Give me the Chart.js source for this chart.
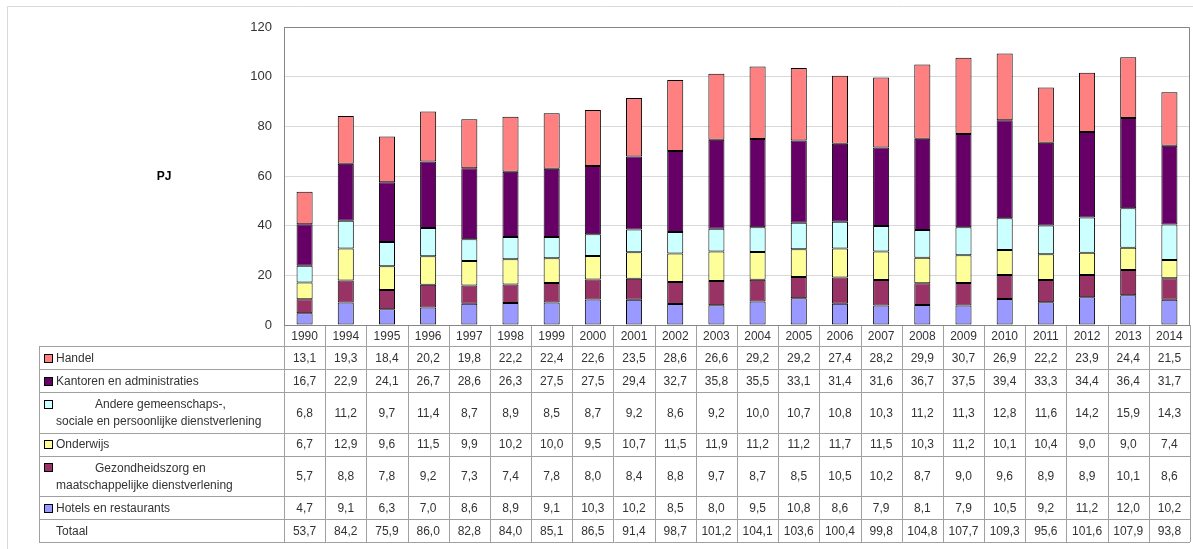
<!DOCTYPE html>
<html lang="nl">
<head>
  <meta charset="UTF-8" />
  <title>Energieverbruik dienstensector (PJ)</title>
  <script src="https://cdn.jsdelivr.net/npm/chart.js"></script>
  <style>
    html, body { margin: 0; padding: 0; background: #ffffff; }
    .wrap { position: relative; width: 1193px; height: 549px; }
  </style>
</head>
<body>
  <div class="wrap"><canvas id="chart"></canvas></div>

  <script>
    // jaren (kolommen)
    const years = ['1990', '1994', '1995', '1996', '1997', '1998', '1999', '2000', '2001', '2002', '2003',
      '2004', '2005', '2006', '2007', '2008', '2009', '2010', '2011', '2012', '2013', '2014'];

    // waarden per sector, PJ
    const handel = [13.1, 19.3, 18.4, 20.2, 19.8, 22.2, 22.4, 22.6, 23.5, 28.6, 26.6, 29.2, 29.2, 27.4, 28.2, 29.9, 30.7, 26.9, 22.2, 23.9, 24.4, 21.5];
    const kantoren = [16.7, 22.9, 24.1, 26.7, 28.6, 26.3, 27.5, 27.5, 29.4, 32.7, 35.8, 35.5, 33.1, 31.4, 31.6, 36.7, 37.5, 39.4, 33.3, 34.4, 36.4, 31.7];
    const andere = [6.8, 11.2, 9.7, 11.4, 8.7, 8.9, 8.5, 8.7, 9.2, 8.6, 9.2, 10.0, 10.7, 10.8, 10.3, 11.2, 11.3, 12.8, 11.6, 14.2, 15.9, 14.3];
    const onderwijs = [6.7, 12.9, 9.6, 11.5, 9.9, 10.2, 10.0, 9.5, 10.7, 11.5, 11.9, 11.2, 11.2, 11.7, 11.5, 10.3, 11.2, 10.1, 10.4, 9.0, 9.0, 7.4];
    const gezondheid = [5.7, 8.8, 7.8, 9.2, 7.3, 7.4, 7.8, 8.0, 8.4, 8.8, 9.7, 8.7, 8.5, 10.5, 10.2, 8.7, 9.0, 9.6, 8.9, 8.9, 10.1, 8.6];
    const hotels = [4.7, 9.1, 6.3, 7.0, 8.6, 8.9, 9.1, 10.3, 10.2, 8.5, 8.0, 9.5, 10.8, 8.6, 7.9, 8.1, 7.9, 10.5, 9.2, 11.2, 12.0, 10.2];
    const totaal = [53.7, 84.2, 75.9, 86.0, 82.8, 84.0, 85.1, 86.5, 91.4, 98.7, 101.2, 104.1, 103.6, 100.4, 99.8, 104.8, 107.7, 109.3, 95.6, 101.6, 107.9, 93.8];

    const yTicks = [0, 20, 40, 60, 80, 100, 120];

    const fmt = v => v.toFixed(1).replace('.', ',');
    const textColor = '#333333';
    const lineColor = '#a0a0a0';

    // tabel onder de grafiek, kolommen volgen de x-schaal
    const dataTable = {
      id: 'dataTable',
      afterDraw(chart) {
        const ctx = chart.ctx;
        const area = chart.chartArea;
        const xs = chart.scales.x;
        const n = chart.data.labels.length;
        const colW = (area.right - area.left) / n;
        const tableLeft = 39;
        const headTop = area.bottom;
        const headBottom = area.bottom + 21;

        // rijen van boven naar beneden (datasets staan van onder naar boven)
        const rows = chart.data.datasets.slice().reverse().map(ds => ({
          lines: ds.label.split('\n'), color: ds.backgroundColor, values: ds.data
        }));
        rows.push({ lines: ['Totaal'], color: null, values: totaal });

        ctx.save();

        // rand om het geheel
        ctx.strokeStyle = '#d9d9d9';
        ctx.lineWidth = 1;
        ctx.beginPath();
        ctx.moveTo(7.5, 549); ctx.lineTo(7.5, 6.5); ctx.lineTo(1193, 6.5);
        ctx.stroke();

        // kader plotgebied
        ctx.strokeStyle = '#868686';
        ctx.beginPath();
        ctx.moveTo(area.left + 0.5, area.top + 0.5);
        ctx.lineTo(area.right - 0.5, area.top + 0.5);
        ctx.lineTo(area.right - 0.5, area.bottom);
        ctx.stroke();

        // PJ
        ctx.fillStyle = '#000';
        ctx.font = 'bold 12px "Liberation Sans", Arial, sans-serif';
        ctx.textAlign = 'center';
        ctx.textBaseline = 'middle';
        ctx.fillText('PJ', 164, 177);

        // rij-hoogtes
        let y = headBottom;
        const bounds = rows.map(r => {
          const h = r.lines.length > 1 ? 40.5 : 23;
          const b = [y, y + h];
          y += h;
          return b;
        });
        const tableBottom = y;

        // lijnen
        ctx.strokeStyle = lineColor;
        ctx.beginPath();
        for (let i = 0; i <= n; i++) {
          const x = Math.round(area.left + i * colW) + 0.5;
          ctx.moveTo(x, headTop);
          ctx.lineTo(x, tableBottom);
        }
        ctx.moveTo(tableLeft + 0.5, headBottom);
        ctx.lineTo(tableLeft + 0.5, tableBottom);
        bounds.forEach(b => {
          ctx.moveTo(tableLeft, Math.round(b[0]) + 0.5);
          ctx.lineTo(area.right, Math.round(b[0]) + 0.5);
        });
        ctx.moveTo(tableLeft, Math.round(tableBottom) + 0.5);
        ctx.lineTo(area.right, Math.round(tableBottom) + 0.5);
        ctx.stroke();

        // x-as
        ctx.strokeStyle = '#868686';
        ctx.beginPath();
        ctx.moveTo(area.left, area.bottom + 0.5);
        ctx.lineTo(area.right, area.bottom + 0.5);
        ctx.stroke();

        ctx.font = '12px "Liberation Sans", Arial, sans-serif';
        ctx.fillStyle = textColor;
        ctx.textAlign = 'center';
        ctx.textBaseline = 'middle';

        // jaartallen
        chart.data.labels.forEach((lab, i) => {
          ctx.fillText(lab, xs.getPixelForValue(i), (headTop + headBottom) / 2 + 1);
        });

        rows.forEach((r, ri) => {
          const [top, bot] = bounds[ri];
          const mid = (top + bot) / 2 + 1;
          // waarden
          ctx.textAlign = 'center';
          r.values.forEach((v, i) => {
            ctx.fillText(fmt(v), xs.getPixelForValue(i), mid);
          });
          // label + legendablokje
          ctx.textAlign = 'left';
          const firstY = r.lines.length > 1 ? mid - 8.5 : mid;
          if (r.color) {
            ctx.fillStyle = r.color;
            ctx.fillRect(44.5, Math.round(firstY) - 4.5, 8, 8);
            ctx.strokeStyle = '#000';
            ctx.strokeRect(44.5, Math.round(firstY) - 4.5, 8, 8);
            ctx.fillStyle = textColor;
          }
          if (r.lines.length > 1) {
            ctx.fillText(r.lines[0], 95, firstY);
            ctx.fillText(r.lines[1], 56, firstY + 17);
          } else {
            ctx.fillText(r.lines[0], 56, mid);
          }
        });

        ctx.restore();
      }
    };

    const series = [
      { label: 'Hotels en restaurants', data: hotels, color: '#9999FF' },
      { label: 'Gezondheidszorg en\nmaatschappelijke dienstverlening', data: gezondheid, color: '#993366' },
      { label: 'Onderwijs', data: onderwijs, color: '#FFFF99' },
      { label: 'Andere gemeenschaps-,\nsociale en persoonlijke dienstverlening', data: andere, color: '#CCFFFF' },
      { label: 'Kantoren en administraties', data: kantoren, color: '#660066' },
      { label: 'Handel', data: handel, color: '#FF8080' }
    ];

    new Chart(document.getElementById('chart'), {
      type: 'bar',
      data: {
        labels: years,
        datasets: series.map(s => ({
          label: s.label,
          data: s.data,
          backgroundColor: s.color,
          borderColor: '#000000',
          borderWidth: 1,
          borderSkipped: false,
          barPercentage: 0.39,
          categoryPercentage: 1
        }))
      },
      options: {
        responsive: true,
        maintainAspectRatio: false,
        animation: false,
        layout: { padding: { left: 0, top: 27, right: 3, bottom: 224 } },
        plugins: {
          legend: { display: false },
          tooltip: { enabled: false }
        },
        scales: {
          x: {
            stacked: true,
            display: false
          },
          y: {
            stacked: true,
            min: 0,
            max: 120,
            afterBuildTicks: scale => { scale.ticks = yTicks.map(v => ({ value: v })); },
            afterFit: scale => { scale.width = 284; },
            grid: { color: '#d9d9d9', drawTicks: false },
            border: { color: '#868686' },
            ticks: {
              padding: 12,
              color: textColor,
              font: { family: '"Liberation Sans", Arial, sans-serif', size: 13 }
            }
          }
        }
      },
      plugins: [dataTable]
    });
  </script>
</body>
</html>
